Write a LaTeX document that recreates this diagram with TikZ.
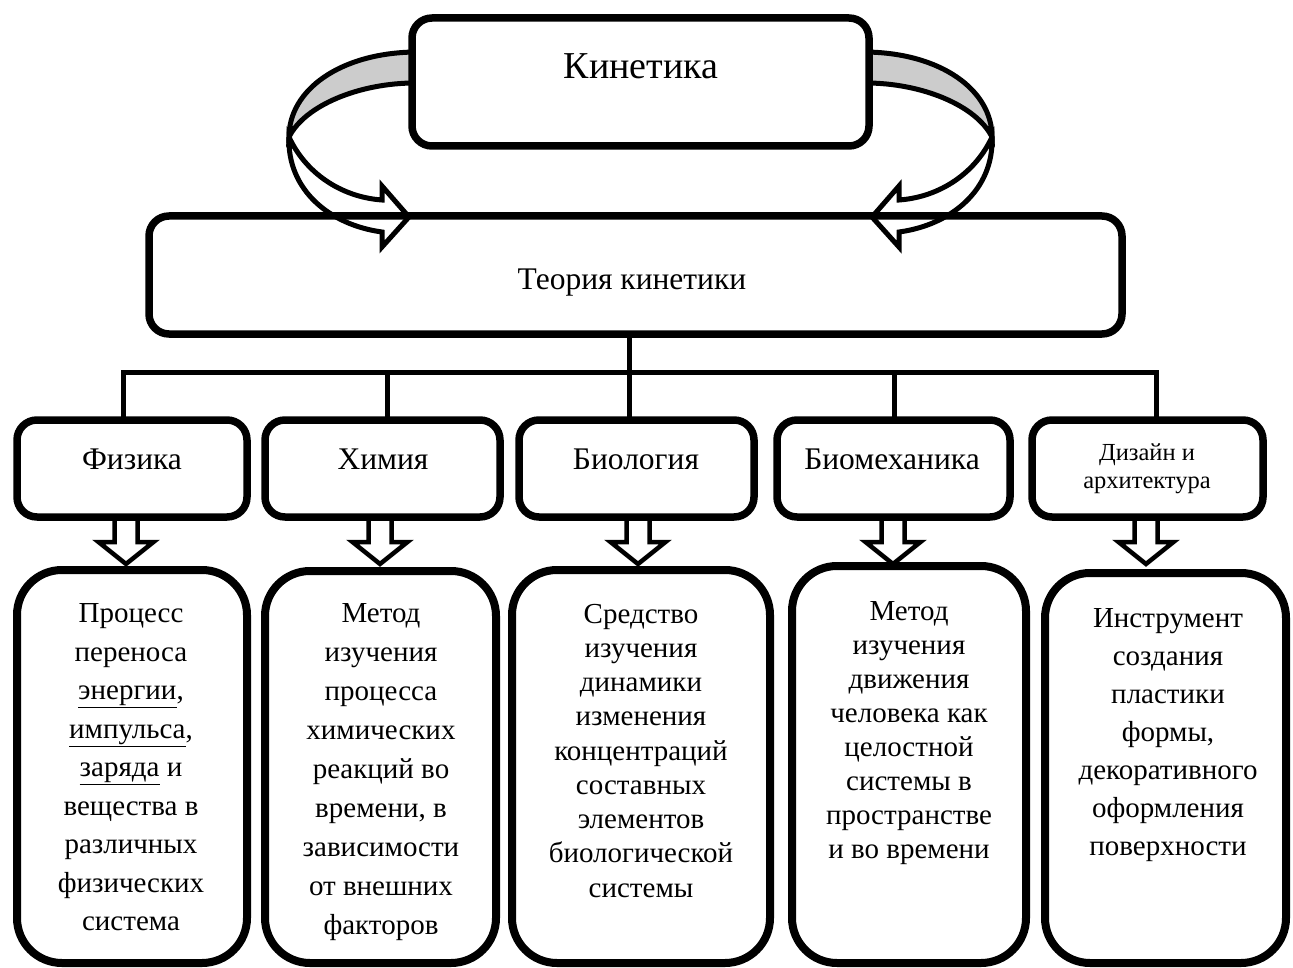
\documentclass[tikz,border=0pt]{standalone}
\usepackage{fontspec}
\setmainfont{Liberation Serif}
\definecolor{bandgray}{RGB}{204,204,204}
\newcommand\kinarrow{%
  \draw[arrline, fill=bandgray] (415,52) .. controls (340,53) and (289,90) .. (289,137)
     .. controls (305,105) and (360,83) .. (415,83) -- cycle;
  \draw[arrline, fill=white] (289,137) .. controls (287,190) and (330,225) .. (382,232)
     -- (382,247) -- (409,217) -- (382,186) -- (382,200)
     .. controls (340,197) and (305,172) .. (289,137) -- cycle;
}
\begin{document}
\begin{tikzpicture}[x=1pt,y=-1pt,
  box/.style={draw, line width=7.5pt, rounded corners=20pt, fill=white, inner sep=0pt, outer sep=0pt},
  descbox/.style={draw, line width=8pt, rounded corners=45pt, fill=white, inner sep=0pt, outer sep=0pt},
  conn/.style={line width=5pt},
  arrline/.style={line width=5pt, line join=miter},
  harrow/.style={line width=4.5pt, fill=white, line join=miter},
  txt/.style={inner sep=0pt, outer sep=0pt, align=center},
  lbl/.style={txt, anchor=base, font=\fontsize{31.5}{36}\selectfont},
  desctxt/.style={txt, anchor=north},
  downarr/.pic={\draw[harrow] (-11.5,-3) -- (-11.5,25) -- (-27.5,25) -- (0,47) -- (27.5,25) -- (11.5,25) -- (11.5,-3);}
]
\useasboundingbox (0,0) rectangle (1293,968);

% curved arrows
\kinarrow
\begin{scope}[xshift=1281pt, xscale=-1]
  \kinarrow
\end{scope}

% main boxes
\node[box, minimum width=457pt, minimum height=128pt] (kin) at (640.5,82) {};
\node[box, fill=none, minimum width=973pt, minimum height=118pt] (teoria) at (635.5,275) {};
\node[txt, anchor=base, font=\fontsize{38}{43}\selectfont] (tkin) at (641,79) {Кинетика};
\node[txt, anchor=base, font=\fontsize{31.5}{36}\selectfont] (tteo) at (632,290) {Теория кинетики};

% tree connectors
\coordinate (bus) at (629,372);
\coordinate (busL) at (123,372);
\coordinate (j2) at (387,372);
\coordinate (j4) at (894,372);
\coordinate (busR) at (1156,372);
\draw[conn] (teoria.south -| bus) -- (bus);
\draw[conn] (123,425) -- (busL) -- (busR) -- (1156,425);
\draw[conn] (j2) -- (387,425);
\draw[conn] (bus) -- (629,425);
\draw[conn] (j4) -- (894,425);

% hollow arrows (behind boxes)
\pic at (126,517) {downarr};
\pic at (380,517) {downarr};
\pic at (638,517) {downarr};
\pic at (893,517) {downarr};
\pic at (1146,517) {downarr};

% category boxes
\node[box, minimum width=230pt, minimum height=97pt] (fiz) at (132,468.5) {};
\node[box, minimum width=235pt, minimum height=97pt] (him) at (382.5,468.5) {};
\node[box, minimum width=235pt, minimum height=97pt] (bio) at (636.5,468.5) {};
\node[box, minimum width=233pt, minimum height=97pt] (bmech) at (893.5,468.5) {};
\node[box, minimum width=231pt, minimum height=97pt] (diz) at (1147.5,468.5) {};

\node[lbl] (tfiz) at (132,469) {Физика};
\node[lbl] (thim) at (383,469) {Химия};
\node[lbl] (tbio) at (636,469) {Биология};
\node[lbl] (tbmech) at (892,469) {Биомеханика};
\node[desctxt, font=\fontsize{24.5}{28}\selectfont] (tdiz) at (1147,444) {Дизайн и\\архитектура};

% description boxes
\node[descbox, minimum width=230pt, minimum height=393pt] (d1) at (132,766.5) {};
\node[descbox, minimum width=231pt, minimum height=392pt] (d2) at (380.5,767) {};
\node[descbox, minimum width=258pt, minimum height=393pt] (d3) at (641,766.5) {};
\node[descbox, minimum width=234pt, minimum height=397pt] (d4) at (909,764.5) {};
\node[descbox, minimum width=241pt, minimum height=390pt] (d5) at (1165.5,768) {};

\node[desctxt, font=\fontsize{29}{38.5}\selectfont] (t1) at (131,604)
  {Процесс\\переноса\\\underline{энергии},\\\underline{импульса},\\\underline{заряда} и\\вещества в\\различных\\физических\\система};
\node[desctxt, font=\fontsize{29}{39}\selectfont] (t2) at (381,604)
  {Метод\\изучения\\процесса\\химических\\реакций во\\времени, в\\зависимости\\от внешних\\факторов};
\node[desctxt, font=\fontsize{29}{34.25}\selectfont] (t3) at (641,604)
  {Средство\\изучения\\динамики\\изменения\\концентраций\\составных\\элементов\\биологической\\системы};
\node[desctxt, font=\fontsize{29}{33.9}\selectfont] (t4) at (909,602)
  {Метод\\изучения\\движения\\человека как\\целостной\\системы в\\пространстве\\и во времени};
\node[desctxt, font=\fontsize{29}{38}\selectfont] (t5) at (1168,609)
  {Инструмент\\создания\\пластики\\формы,\\декоративного\\оформления\\поверхности};
\end{tikzpicture}
\end{document}
